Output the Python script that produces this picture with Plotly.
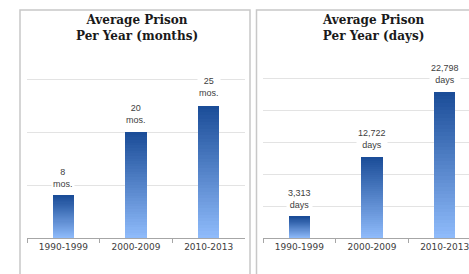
import plotly.graph_objects as go

categories = ["1990-1999", "2000-2009", "2010-2013"]
months = [8, 20, 25]
days = [3313, 12722, 22798]
month_labels = ["8<br>mos.", "20<br>mos.", "25<br>mos."]
day_labels = ["3,313<br>days", "12,722<br>days", "22,798<br>days"]
titles = ["Average Prison<br>Per Year (months)", "Average Prison<br>Per Year (days)"]

W, H = 469, 274
N = 40
top_rgb = (27, 77, 152)
bot_rgb = (142, 186, 250)

def col(i):
    t = i / (N - 1)  # 0 bottom -> 1 top
    r = [round(bot_rgb[k] + (top_rgb[k] - bot_rgb[k]) * t) for k in range(3)]
    return f"rgb({r[0]},{r[1]},{r[2]})"

fig = go.Figure()

def px_x(p):
    return p / W

def px_y(p):
    return 1 - p / H

panels = [
    dict(vals=months, labels=month_labels, xa="x", ya="y", yr=(238 - 60) / 5.3, xr=[-0.5, 2.5]),
    dict(vals=days, labels=day_labels, xa="x2", ya="y2", yr=(238 - 60) / 0.0064,
         xr=[-0.5, 2.5 - (481 - 469) / 72.7]),
]

for p in panels:
    for i in range(N):
        fig.add_trace(go.Bar(
            x=categories, y=[v / N for v in p["vals"]],
            xaxis=p["xa"], yaxis=p["ya"], width=0.29,
            marker=dict(color=col(i), line=dict(width=0)),
            showlegend=False, hoverinfo="skip",
        ))
    for c, v, lab in zip(categories, p["vals"], p["labels"]):
        fig.add_annotation(x=c, y=v, xref=p["xa"], yref=p["ya"], text=lab,
                           showarrow=False, yanchor="bottom", yshift=5,
                           bgcolor="white", borderpad=1,
                           font=dict(family="Liberation Sans", size=9, color="#404040"))

axis_common = dict(showgrid=False, showline=True, linecolor="#a6a6a6", linewidth=1,
                   ticks="outside", tickson="boundaries", ticklen=4, tickcolor="#a6a6a6",
                   tickfont=dict(family="DejaVu Sans", size=9, color="#404040"),
                   fixedrange=True, automargin=False)
yaxis_common = dict(showgrid=True, gridcolor="#e3e3e3", gridwidth=1, zeroline=False,
                    showticklabels=False, ticks="", fixedrange=True, showline=False,
                    automargin=False)

fig.update_layout(
    width=W, height=H, margin=dict(l=0, r=0, t=0, b=0, autoexpand=False),
    paper_bgcolor="white", plot_bgcolor="white", barmode="stack", bargap=0.7,
    xaxis=dict(domain=[px_x(27), px_x(245)], range=panels[0]["xr"], anchor="y", **axis_common),
    yaxis=dict(domain=[px_y(238), px_y(60)], range=[0, panels[0]["yr"]], dtick=10, anchor="x", **yaxis_common),
    xaxis2=dict(domain=[px_x(263), 1], range=panels[1]["xr"], anchor="y2", **axis_common),
    yaxis2=dict(domain=[px_y(238), px_y(60)], range=[0, panels[1]["yr"]], dtick=5000, anchor="x2", **yaxis_common),
)

# panel borders
fig.add_shape(type="rect", xref="paper", yref="paper", x0=px_x(20), x1=px_x(250), y0=px_y(10), y1=px_y(290),
              line=dict(color="#c8c8c8", width=1.5), layer="below")
fig.add_shape(type="rect", xref="paper", yref="paper", x0=px_x(256.5), x1=px_x(490), y0=px_y(10), y1=px_y(290),
              line=dict(color="#c8c8c8", width=1.5), layer="below")

# titles
for t, cx in zip(titles, [137, 373]):
    fig.add_annotation(x=px_x(cx), y=px_y(28.5), xref="paper", yref="paper", text="<b>%s</b>" % t,
                       showarrow=False, xanchor="center", yanchor="middle",
                       font=dict(family="DejaVu Serif", size=12, color="#1a1a1a"))

fig.write_html("out.html", config={"displayModeBar": False},
               post_script="document.body.style.margin='0';document.body.style.overflow='hidden';")
